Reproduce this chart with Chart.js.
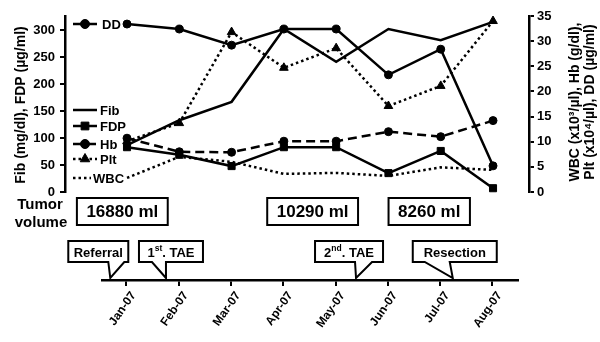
<!DOCTYPE html>
<html>
<head>
<meta charset="utf-8">
<script src="https://cdn.jsdelivr.net/npm/chart.js@4.4.0/dist/chart.umd.min.js"></script>
<style>
	html, body { margin: 0; padding: 0; background: #fff; }
	#wrap { position: relative; width: 600px; height: 342px; }
	#wrap canvas { position: absolute; left: 0; top: 0; }
</style>
</head>
<body>
<div id="wrap">
	<canvas id="main" width="600" height="342"></canvas>
	<canvas id="timeline" width="600" height="342"></canvas>
</div>
<script>
// data
var months = ['Jan-07', 'Feb-07', 'Mar-07', 'Apr-07', 'May-07', 'Jun-07', 'Jul-07', 'Aug-07'];
var fib = [87, 133, 167, 302, 241, 302, 281, 315];      // mg/dl, left axis
var fdp = [83, 69, 48, 83, 83, 35, 76, 7];              // ug/ml, left axis
var hb  = [10.7, 8.0, 7.9, 10.1, 10.1, 12.0, 11.0, 14.2];
var plt = [10.1, 13.7, 31.8, 24.7, 28.6, 17.1, 21.1, 34.0];
var wbc = [2.8, 7.0, 6.0, 3.6, 3.8, 3.2, 4.9, 4.4];
var dd  = [33.4, 32.4, 29.2, 32.4, 32.4, 23.3, 28.4, 5.2];
var leftTicks = [0, 50, 100, 150, 200, 250, 300];

var volumes = ['16880 ml', '10290 ml', '8260 ml'];
var volumeAt = [-0.08, 3.56, 5.79];                     // in months from Jan-07
var events = [['Referral'], ['1', 'st', '. TAE'], ['2', 'nd', '. TAE'], ['Resection']];
var eventAt = [-0.31, 0.755, 4.39, 6.24];

// callout shapes, offsets from the pointer tip (px)
var calloutBox = [[-42, 18], [-27, 37], [-41, 27], [-40, 44]];
var calloutBase = [[-2, 14], [-14, 0], [-1, 16], [-28, -3]];

var FONT = '"Liberation Sans", Arial, sans-serif';
Chart.defaults.font.family = FONT;
Chart.defaults.font.weight = 'bold';
Chart.defaults.color = '#000';

function pts(arr){
	return arr.map(function(v, i){ return { x: i, y: v }; });
}

function series(label, arr, axis, style, dash, radius){
	return {
		label: label,
		data: pts(arr),
		yAxisID: axis,
		borderColor: '#000',
		backgroundColor: '#000',
		borderWidth: 2.5,
		borderDash: dash,
		pointStyle: style,
		pointRadius: radius,
		pointBackgroundColor: '#000',
		pointBorderColor: '#000',
		pointBorderWidth: 1,
		tension: 0,
		clip: false
	};
}

var DOT = [2.5, 3];
var DASH = [9, 5];

var datasets = [
	series('Fib', fib, 'yL', 'circle', [], 0),
	series('FDP', fdp, 'yL', 'rect', [], 5),
	series('Hb', hb, 'yR', 'circle', DASH, 4),
	series('Plt', plt, 'yR', 'triangle', DOT, 5),
	series('WBC', wbc, 'yR', 'circle', DOT, 0),
	series('DD', dd, 'yR', 'circle', [], 4)
];

// legend placed inside the plot, like the figure
var legendRows = [
	{ i: 5, y: 24, x1: 73, x2: 97, tx: 102 },
	{ i: 0, y: 110, x1: 73, x2: 97, tx: 100 },
	{ i: 1, y: 126, x1: 73, x2: 97, tx: 100 },
	{ i: 2, y: 144, x1: 73, x2: 97, tx: 100 },
	{ i: 3, y: 159, x1: 73, x2: 97, tx: 100 },
	{ i: 4, y: 178, x1: 73, x2: 91, tx: 93 }
];

var legendPlugin = {
	id: 'insideLegend',
	afterDraw: function(chart){
		var ctx = chart.ctx;
		ctx.save();
		ctx.font = 'bold 13px ' + FONT;
		ctx.textBaseline = 'middle';
		ctx.textAlign = 'left';
		legendRows.forEach(function(r){
			var ds = chart.data.datasets[r.i];
			ctx.strokeStyle = '#000';
			ctx.fillStyle = '#000';
			ctx.lineWidth = 2.5;
			ctx.setLineDash(ds.borderDash);
			ctx.beginPath();
			ctx.moveTo(r.x1, r.y);
			ctx.lineTo(r.x2, r.y);
			ctx.stroke();
			ctx.setLineDash([]);
			if (ds.pointRadius > 0){
				ctx.lineWidth = 1;
				Chart.helpers.drawPoint(ctx, { pointStyle: ds.pointStyle, radius: ds.pointRadius + 0.5, rotation: 0, borderWidth: 1 }, (r.x1 + r.x2) / 2, r.y);
			}
			ctx.fillText(ds.label, r.tx, r.y + 1);
		});
		ctx.restore();
	}
};

var titlePlugin = {
	id: 'axisTitles',
	afterDraw: function(chart){
		var ctx = chart.ctx;
		ctx.save();
		ctx.fillStyle = '#000';
		ctx.font = 'bold 14px ' + FONT;
		ctx.textAlign = 'center';
		ctx.textBaseline = 'middle';
		[[21, 105, 'Fib (mg/dl), FDP (\u00b5g/ml)'],
		 [575, 102, 'WBC (x10\u00b3/\u00b5l), Hb (g/dl),'],
		 [590, 102, 'Plt (x10\u2074/\u00b5l), DD (\u00b5g/ml)']].forEach(function(t){
			ctx.save();
			ctx.translate(t[0], t[1]);
			ctx.rotate(-Math.PI / 2);
			ctx.fillText(t[2], 0, 0);
			ctx.restore();
		});
		ctx.restore();
	}
};

var mainChart = new Chart(document.getElementById('main'), {
	type: 'line',
	data: { datasets: datasets },
	options: {
		responsive: false,
		animation: false,
		devicePixelRatio: 1,
		layout: { padding: { top: 16, bottom: 150, left: 0, right: 0 } },
		plugins: { legend: { display: false }, tooltip: { enabled: false } },
		scales: {
			x: { type: 'linear', display: false, min: -1.186, max: 7.688 },
			yL: {
				position: 'left',
				min: 0,
				max: 326,
				afterBuildTicks: function(s){ s.ticks = leftTicks.map(function(v){ return { value: v }; }); },
				afterFit: function(s){ s.width = 65; },
				ticks: { font: { size: 13 }, padding: 5 },
				grid: { drawOnChartArea: false, tickLength: 5, color: '#000', lineWidth: 2 },
				border: { color: '#000', width: 2.5 }
			},
			yR: {
				position: 'right',
				min: 0,
				max: 35,
				afterFit: function(s){ s.width = 71; },
				ticks: { stepSize: 5, font: { size: 13 }, padding: 3 },
				grid: { drawOnChartArea: false, tickLength: 5, color: '#000', lineWidth: 2 },
				border: { color: '#000', width: 2.5 }
			}
		}
	},
	plugins: [legendPlugin, titlePlugin]
});

var calloutPlugin = {
	id: 'callouts',
	afterDraw: function(chart){
		var ctx = chart.ctx;
		var sx = chart.scales.x;
		var axisY = chart.chartArea.bottom;
		ctx.save();
		ctx.fillStyle = '#000';
		ctx.strokeStyle = '#000';
		ctx.lineWidth = 2;
		ctx.textAlign = 'center';
		ctx.textBaseline = 'middle';

		ctx.font = 'bold 15px ' + FONT;
		ctx.fillText('Tumor', 40, 205);
		ctx.fillText('volume', 41, 223);

		ctx.font = 'bold 17px ' + FONT;
		volumes.forEach(function(v, i){
			var cx = sx.getPixelForValue(volumeAt[i]);
			var w = ctx.measureText(v).width + 19;
			ctx.strokeRect(cx - w / 2, 198, w, 27);
			ctx.fillText(v, cx, 212);
		});

		events.forEach(function(parts, i){
			var tip = sx.getPixelForValue(eventAt[i]);
			var b = calloutBox[i], p = calloutBase[i];
			var top = 241, bot = 262;
			ctx.beginPath();
			ctx.moveTo(tip + b[0], top);
			ctx.lineTo(tip + b[1], top);
			ctx.lineTo(tip + b[1], bot);
			ctx.lineTo(tip + p[1], bot);
			ctx.lineTo(tip, axisY - 2);
			ctx.lineTo(tip + p[0], bot);
			ctx.lineTo(tip + b[0], bot);
			ctx.closePath();
			ctx.fillStyle = '#fff';
			ctx.fill();
			ctx.stroke();

			// text with optional superscript
			ctx.fillStyle = '#000';
			var sizes = parts.map(function(s, k){ return k === 1 ? 8.5 : 13; });
			var total = 0;
			parts.forEach(function(s, k){
				ctx.font = 'bold ' + sizes[k] + 'px ' + FONT;
				total += ctx.measureText(s).width;
			});
			var x = tip + (b[0] + b[1]) / 2 - total / 2;
			ctx.textAlign = 'left';
			parts.forEach(function(s, k){
				ctx.font = 'bold ' + sizes[k] + 'px ' + FONT;
				ctx.fillText(s, x, k === 1 ? 249 : 253);
				x += ctx.measureText(s).width;
			});
			ctx.textAlign = 'center';
		});
		ctx.restore();
	}
};

var timelineChart = new Chart(document.getElementById('timeline'), {
	type: 'line',
	data: { datasets: [] },
	options: {
		responsive: false,
		animation: false,
		devicePixelRatio: 1,
		layout: { padding: { left: 102, right: 82, top: 200, bottom: 0 } },
		plugins: { legend: { display: false }, tooltip: { enabled: false } },
		scales: {
			x: {
				type: 'linear',
				position: 'bottom',
				min: -0.4685,
				max: 7.4877,
				afterBuildTicks: function(s){ s.ticks = months.map(function(m, i){ return { value: i }; }); },
				afterFit: function(s){ s.height = 62; },
				ticks: {
					autoSkip: false,
					minRotation: 55,
					maxRotation: 55,
					padding: 3,
					labelOffset: 7,
					font: { size: 12 },
					callback: function(v){ return months[v]; }
				},
				grid: { drawOnChartArea: false, tickLength: 6, color: '#000', lineWidth: 2 },
				border: { color: '#000', width: 2.5 }
			},
			y: { display: false, min: 0, max: 1 }
		}
	},
	plugins: [calloutPlugin]
});
</script>
</body>
</html>
